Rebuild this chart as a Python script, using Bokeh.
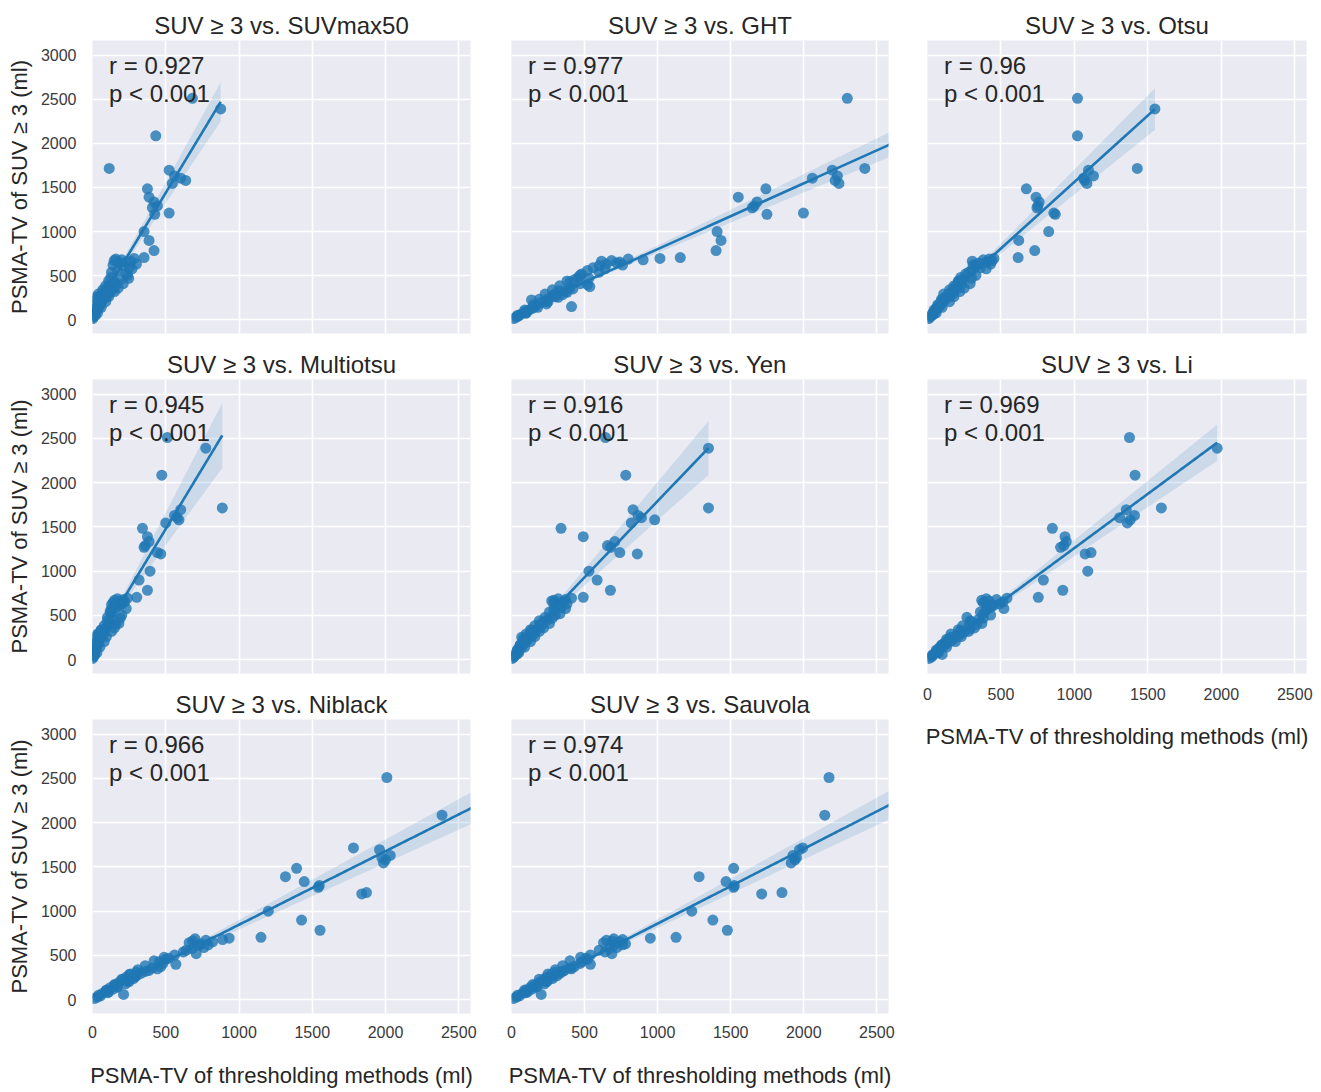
import numpy as np
from bokeh.plotting import figure
from bokeh.layouts import row, column
from bokeh.models import Range1d, FixedTicker, Label
from bokeh.embed import file_html
from bokeh.resources import INLINE

# ---------------- data (ml) ----------------
# PSMA-TV of SUV >= 3 (shared y for every panel)
suv3 = [2510, 2390, 2085, 1715, 1695, 1630, 1605, 1580, 1545, 1485,
        1390, 1335, 1290, 1270, 1210, 1195, 1000, 900, 785, 705,
        695, 688, 680, 672, 665, 655, 645, 632, 615, 590,
        560, 520, 480, 455, 430, 400, 375, 350, 330, 312,
        298, 285, 270, 255, 240, 225, 210, 195, 180, 165,
        150, 135, 120, 105, 90, 75, 60, 45, 30, 15,
        620, 578, 540, 505, 470, 440, 410, 385, 360, 340,
        320, 292, 262, 232, 205, 172, 142, 110, 80, 50]

suvmax50 = [682, 875, 432, 114, 523, 560, 602, 636, 545, 375,
            386, 420, 443, 409, 523, 425, 352, 386, 420, 352,
            284, 160, 200, 148, 261, 230, 180, 300, 210, 250,
            170, 227, 125, 190, 150, 160, 110, 140, 80, 120,
            95, 60, 100, 23, 75, 50, 65, 40, 55, 30,
            45, 25, 30, 18, 20, 12, 15, 8, 5, 2,
            140, 270, 130, 240, 247, 110, 210, 90, 175, 70,
            150, 40, 111, 30, 90, 20, 60, 10, 35, 20]

ght = [2298, 2850, 2720, 2418, 2195, 2230, 2059, 2215, 2241, 1741,
       1552, 1680, 1661, 1648, 1998, 1748, 1407, 1434, 1400, 1155,
       1016, 799, 901, 685, 616, 740, 720, 650, 600, 559,
       520, 480, 456, 430, 400, 520, 536, 420, 331, 380,
       300, 350, 280, 320, 250, 137, 230, 200, 240, 170,
       411, 150, 130, 110, 90, 100, 60, 50, 35, 15,
       760, 640, 600, 470, 530, 380, 470, 330, 400, 280,
       370, 230, 300, 190, 250, 150, 180, 90, 100, 40]

otsu = [1021, 1548, 1021, 1428, 1096, 1130, 1062, 1070, 1085, 673,
        739, 760, 752, 745, 860, 870, 825, 621, 730, 617,
        452, 420, 380, 440, 305, 400, 350, 430, 330, 360,
        300, 260, 226, 240, 210, 230, 190, 200, 170, 160,
        175, 140, 150, 120, 130, 102, 110, 90, 95, 75,
        80, 60, 65, 50, 48, 35, 40, 25, 18, 8,
        310, 400, 280, 330, 300, 210, 290, 180, 250, 150,
        220, 110, 180, 95, 150, 70, 100, 45, 60, 25]

multiotsu = [511, 773, 473, 886, 602, 560, 578, 590, 500, 341,
             375, 386, 360, 352, 443, 466, 393, 318, 375, 302,
             239, 170, 210, 150, 190, 220, 140, 200, 180, 160,
             125, 130, 102, 140, 115, 159, 100, 90, 57, 80,
             70, 40, 65, 20, 50, 35, 45, 25, 38, 18,
             30, 15, 20, 10, 14, 8, 10, 5, 3, 1,
             130, 230, 120, 200, 190, 100, 180, 80, 150, 60,
             130, 35, 95, 25, 80, 18, 50, 8, 30, 15]

yen = [643, 1348, 782, 1348, 832, 866, 889, 980, 820, 339,
       491, 707, 657, 680, 741, 861, 530, 586, 677, 491,
       411, 320, 370, 290, 275, 350, 300, 380, 330, 340,
       290, 332, 230, 250, 220, 195, 200, 180, 139, 160,
       150, 120, 140, 70, 115, 95, 100, 80, 85, 60,
       70, 50, 55, 40, 42, 30, 36, 22, 14, 6,
       290, 370, 260, 300, 280, 190, 260, 160, 220, 130,
       190, 100, 160, 80, 130, 60, 90, 40, 50, 20]

li = [1375, 1972, 1413, 1592, 1353, 1409, 1308, 1380, 1360, 850,
      936, 945, 928, 906, 1113, 1073, 1091, 789, 921, 754,
      541, 400, 470, 369, 420, 514, 380, 490, 450, 430,
      400, 380, 268, 347, 300, 335, 280, 290, 224, 250,
      230, 200, 210, 157, 180, 140, 160, 120, 130, 95,
      105, 80, 85, 65, 70, 50, 100, 35, 25, 10,
      400, 520, 360, 430, 380, 290, 370, 240, 320, 210,
      280, 160, 230, 130, 190, 100, 130, 60, 75, 30]

niblack = [2009, 2700, 2386, 1781, 1959, 2032, 1975, 2000, 1986, 1393,
           1317, 1445, 1548, 1541, 1870, 1838, 1200, 1427, 1553, 1150,
           933, 700, 888, 774, 683, 820, 660, 740, 729, 760,
           640, 708, 489, 500, 455, 569, 466, 443, 384, 300,
           330, 250, 300, 230, 280, 205, 240, 180, 225, 150,
           170, 120, 140, 95, 110, 70, 212, 55, 35, 15,
           790, 680, 620, 560, 520, 420, 480, 360, 410, 310,
           360, 260, 290, 200, 250, 150, 170, 95, 105, 40]

sauvola = [2173, 2750, 2144, 1993, 1971, 1926, 1950, 1940, 1914, 1520,
           1284, 1468, 1525, 1520, 1851, 1712, 1234, 1378, 1477, 1126,
           950, 700, 760, 650, 690, 740, 630, 780, 700, 720,
           600, 687, 473, 520, 480, 540, 430, 410, 360, 300,
           330, 270, 310, 240, 280, 215, 245, 190, 225, 160,
           175, 125, 140, 100, 110, 75, 203, 55, 35, 15,
           760, 670, 640, 540, 510, 400, 470, 350, 400, 300,
           350, 250, 280, 190, 240, 145, 165, 90, 100, 40]

method_names = ["SUVmax50", "GHT", "Otsu", "Multiotsu", "Yen", "Li", "Niblack", "Sauvola"]
method_values = [suvmax50, ght, otsu, multiotsu, yen, li, niblack, sauvola]
r_values = ["0.927", "0.977", "0.96", "0.945", "0.916", "0.969", "0.966", "0.974"]
p_text = "p < 0.001"

x_ticks = [0, 500, 1000, 1500, 2000, 2500]
y_ticks = [0, 500, 1000, 1500, 2000, 2500, 3000]

x_label = "PSMA-TV of thresholding methods (ml)"
y_label = "PSMA-TV of SUV \u2265 3 (ml)"

# ---------------- style ----------------
FONT = "Liberation Sans"
BLUE = "#1f77b4"
TXT = "#262626"
TICK = "#3a3a3a"
BG = "#eaeaf2"

COLS = [dict(l=92, w=378, r=20), dict(l=21, w=377, r=19), dict(l=20, w=379, r=7)]
ROWS = [dict(t=40, h=293, b=13), dict(t=33, h=294, b=13), dict(t=33, h=294, b=74)]


def regression(xv, yv):
    """OLS fit with a heteroscedasticity-robust 95% band (close to seaborn's bootstrap)."""
    x = np.asarray(xv, dtype=float)
    y = np.asarray(yv, dtype=float)
    n = len(x)
    X = np.column_stack([np.ones(n), x])
    xtx_inv = np.linalg.inv(X.T @ X)
    beta = xtx_inv @ X.T @ y
    e = y - X @ beta
    meat = X.T @ (X * (e ** 2)[:, None])
    V = xtx_inv @ meat @ xtx_inv * n / (n - 2)
    xs = np.linspace(x.min(), x.max(), 150)
    yh = beta[0] + beta[1] * xs
    se = np.sqrt(V[0, 0] + 2 * xs * V[0, 1] + xs ** 2 * V[1, 1])
    return xs, yh, yh - 1.96 * se, yh + 1.96 * se


def make_panel(i):
    rr, cc = divmod(i, 3)
    show_y = cc == 0
    show_x = rr == 2 or i == 5
    cs, rs = COLS[cc], ROWS[rr]
    bottom = rs["b"]
    if i == 5:
        bottom = 78
    p = figure(frame_width=cs["w"], frame_height=rs["h"],
               x_range=Range1d(0, 2580), y_range=Range1d(-155, 3165),
               x_axis_location="below" if show_x else None,
               y_axis_location="left" if show_y else None,
               output_backend="svg", toolbar_location=None,
               min_border_left=cs["l"], min_border_right=cs["r"],
               min_border_top=rs["t"], min_border_bottom=bottom,
               background_fill_color=BG, border_fill_color="white",
               outline_line_color=None,
               title="SUV \u2265 3 vs. " + method_names[i])
    p.title.align = "center"
    p.title.text_font = FONT
    p.title.text_font_size = "24px"
    p.title.text_font_style = "normal"
    p.title.text_color = TXT
    p.title.standoff = 4

    p.xgrid.ticker = FixedTicker(ticks=x_ticks)
    p.ygrid.ticker = FixedTicker(ticks=y_ticks)
    for g in (p.xgrid, p.ygrid):
        g.grid_line_color = "white"
        g.grid_line_width = 1.6

    axes = []
    if show_x:
        p.xaxis.ticker = FixedTicker(ticks=x_ticks)
        p.xaxis.axis_label = x_label
        p.xaxis.major_label_standoff = 6 if i != 5 else 8
        p.xaxis.axis_label_standoff = 22 if i != 5 else 21
        axes.append(p.xaxis)
    if show_y:
        p.yaxis.ticker = FixedTicker(ticks=y_ticks)
        p.yaxis.axis_label = y_label
        p.yaxis.major_label_standoff = 10
        p.yaxis.axis_label_standoff = 6
        axes.append(p.yaxis)
    for ax in axes:
        ax.axis_line_color = None
        ax.major_tick_line_color = None
        ax.minor_tick_line_color = None
        ax.major_label_text_font = FONT
        ax.major_label_text_font_size = "16px"
        ax.major_label_text_color = TICK
        ax.axis_label_text_font = FONT
        ax.axis_label_text_font_size = "22px"
        ax.axis_label_text_font_style = "normal"
        ax.axis_label_text_color = TXT

    xv = method_values[i]
    p.scatter(x=xv, y=suv3, size=11, fill_color=BLUE, fill_alpha=0.8, line_color=None)
    xs, yh, lo, hi = regression(xv, suv3)
    p.varea(x=xs, y1=lo, y2=hi, fill_color=BLUE, fill_alpha=0.15)
    p.line(x=xs, y=yh, line_color=BLUE, line_width=2.6)

    p.add_layout(Label(x=113, y=2885, text="r = " + r_values[i], text_font=FONT,
                       text_font_size="24px", text_color=TXT, text_baseline="alphabetic"))
    p.add_layout(Label(x=113, y=2570, text=p_text, text_font=FONT,
                       text_font_size="24px", text_color=TXT, text_baseline="alphabetic"))
    return p


panels = [make_panel(i) for i in range(8)]
layout = row(column(panels[0], panels[3], panels[6]),
             column(panels[1], panels[4], panels[7]),
             column(panels[2], panels[5]))

open("out.html", "w").write(file_html(layout, INLINE))
